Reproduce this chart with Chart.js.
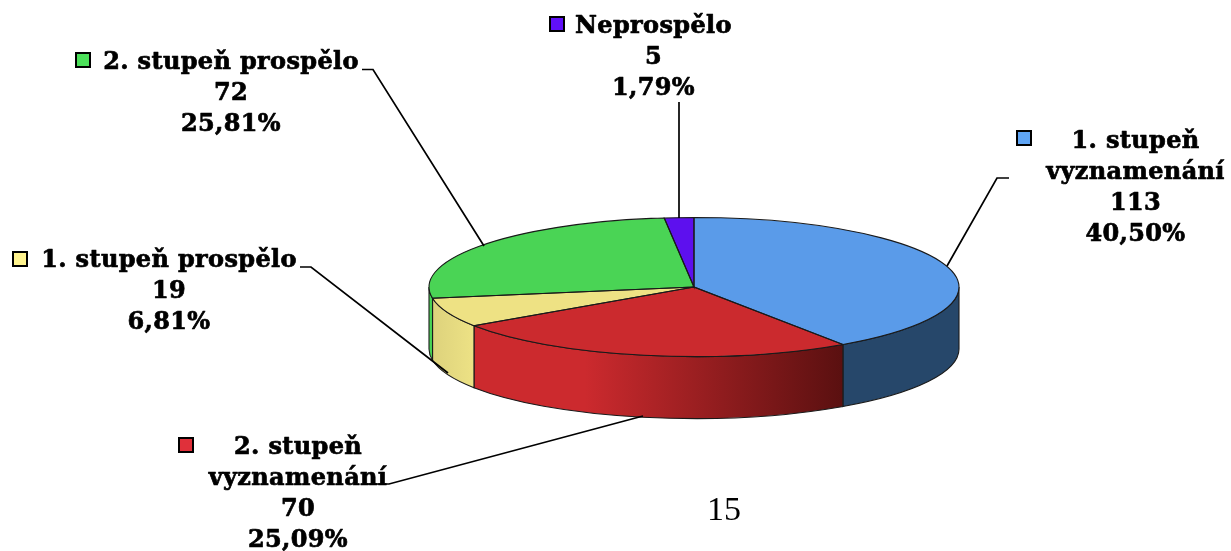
<!DOCTYPE html>
<html><head><meta charset="utf-8">
<style>html,body{margin:0;padding:0;background:#fff}canvas{display:block}</style>
<script src="https://cdn.jsdelivr.net/npm/chart.js@4"></script>
</head><body><canvas id="c" width="1231" height="551"></canvas>
<script>
const categories = ['1. stupeň vyznamenání','2. stupeň vyznamenání','1. stupeň prospělo','2. stupeň prospělo','Neprospělo'];
const values = [113,70,19,72,5];
const percents = ['40,50%','25,09%','6,81%','25,81%','1,79%'];
const topColors = ['#5A9BE9','#CB2A2E','#EEE284','#4AD455','#5D10EE'];
const keyColors = ['#5FA5F5','#E0303A','#FFF48F','#4CE05A','#6010F8'];
const wallStops = [['#26476A','#26476A'],['#CC2A2E','#5A1010'],['#DDD27C','#EDE285'],['#4AD455','#4AD455'],['#5D10EE','#5D10EE']];
const labelLines = [['1. stupeň','vyznamenání'],['2. stupeň','vyznamenání'],['1. stupeň prospělo'],['2. stupeň prospělo'],['Neprospělo']];
const pageNumber = '15';

const CX=694, CY=287, RY=69.5, DEPTH=62, FONT="bold 24px 'DejaVu Serif',serif";
const labelLayout = [
 {x:1135.5,y:147.5,key:[1016,130],lead:[[1009,178],[997,178],[947,266]]},
 {x:298,y:454,key:[178,437],lead:[[365,484],[389,484],[643,416]]},
 {x:169,y:267,key:[12,251],lead:[[300,267],[311,267],[448,373]]},
 {x:231,y:69,key:[75,52],lead:[[362,69.5],[373,69.5],[484,246]]},
 {x:653.5,y:33,key:[549,16],lead:[[679,102],[679,218]]}
];

const pie3d = {
 id:'pie3d',
 beforeDatasetsDraw(chart){
  const ctx=chart.ctx, arcs=chart.getDatasetMeta(0).data, rx=arcs[0].outerRadius;
  ctx.save();
  ctx.lineWidth=1.1; ctx.strokeStyle='#1a1a1a';
  arcs.forEach((a,i)=>{
   const s=Math.max(a.startAngle,0), e=Math.min(a.endAngle,Math.PI);
   if(e<=s) return;
   const x0=CX+rx*Math.cos(e), x1=CX+rx*Math.cos(s);
   const g=ctx.createLinearGradient(Math.min(x0,x1),0,Math.max(x0,x1),0);
   g.addColorStop(0,wallStops[i][0]);
   if(i===1) g.addColorStop(0.3,wallStops[i][0]);
   g.addColorStop(1,wallStops[i][1]);
   ctx.fillStyle=g;
   ctx.beginPath();
   ctx.ellipse(CX,CY,rx,RY,0,s,e);
   ctx.ellipse(CX,CY+DEPTH,rx,RY,0,e,s,true);
   ctx.closePath(); ctx.fill(); ctx.stroke();
  });
  ctx.restore();
  ctx.save();
  ctx.translate(CX,CY); ctx.scale(1,RY/rx); ctx.translate(-arcs[0].x,-arcs[0].y);
 },
 afterDatasetsDraw(chart){
  const ctx=chart.ctx, arcs=chart.getDatasetMeta(0).data, rx=arcs[0].outerRadius;
  ctx.restore();
  ctx.save();
  ctx.lineWidth=1.1; ctx.strokeStyle='#1a1a1a';
  arcs.forEach(a=>{
   ctx.beginPath();
   ctx.moveTo(CX,CY);
   ctx.ellipse(CX,CY,rx,RY,0,a.startAngle,a.endAngle);
   ctx.closePath(); ctx.stroke();
  });
  ctx.strokeStyle='#000'; ctx.lineWidth=1.7;
  labelLayout.forEach(l=>{
   ctx.beginPath();
   l.lead.forEach((p,j)=>j?ctx.lineTo(p[0],p[1]):ctx.moveTo(p[0],p[1]));
   ctx.stroke();
  });
  ctx.font=FONT; ctx.letterSpacing='0.35px'; ctx.fillStyle='#000'; ctx.textAlign='center'; ctx.textBaseline='alphabetic';
  labelLayout.forEach((l,i)=>{
   const lines=[...labelLines[i],String(values[i]),percents[i]];
   ctx.strokeStyle='#000'; ctx.lineWidth=0.7; ctx.lineJoin='round';
   lines.forEach((t,j)=>{ctx.fillText(t,l.x,l.y+j*31);ctx.strokeText(t,l.x,l.y+j*31);});
   ctx.fillStyle=keyColors[i]; ctx.lineWidth=2; ctx.lineJoin='miter';
   ctx.beginPath(); ctx.rect(l.key[0]+1,l.key[1]+1,14,14); ctx.fill(); ctx.stroke();
   ctx.fillStyle='#000';
  });
  ctx.letterSpacing='0px';
  ctx.font="34px 'Liberation Serif',serif";
  ctx.fillText(pageNumber,724,520);
  ctx.restore();
 }
};

new Chart(document.getElementById('c'),{
 type:'pie',
 data:{labels:categories,datasets:[{data:values,backgroundColor:topColors,borderWidth:0}]},
 options:{responsive:false,animation:false,
  layout:{padding:{left:429,right:272,top:10,bottom:11}},
  plugins:{legend:{display:false},tooltip:{enabled:false},title:{display:false}}},
 plugins:[pie3d]
});
</script></body></html>
